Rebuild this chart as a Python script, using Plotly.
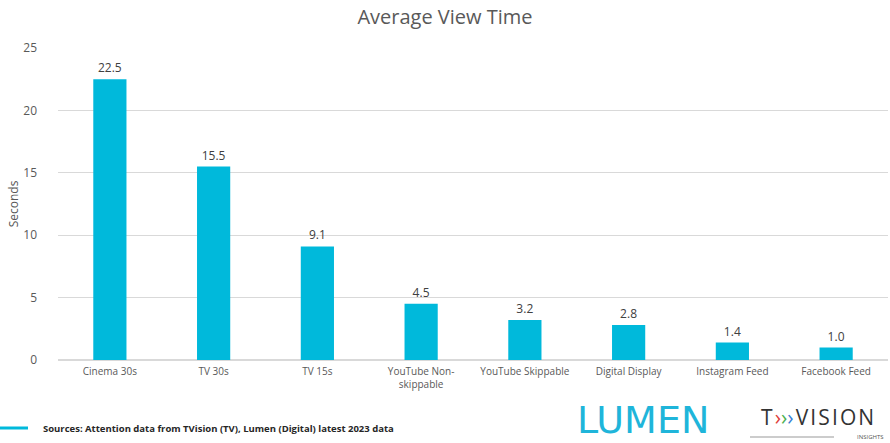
import plotly.graph_objects as go

categories = ["Cinema 30s", "TV 30s", "TV 15s", "YouTube Non-<br>skippable",
              "YouTube Skippable", "Digital Display", "Instagram Feed", "Facebook Feed"]
seconds = [22.5, 15.5, 9.1, 4.5, 3.2, 2.8, 1.4, 1.0]
y_ticks = [0, 5, 10, 15, 20, 25]

FONT = "'Open Sans', sans-serif"
BAR = "#00B9DB"

fig = go.Figure(go.Bar(
    x=categories, y=seconds,
    marker=dict(color=BAR, line=dict(width=0)),
    text=[f"{v:.1f}" for v in seconds],
    textposition="outside",
    textfont=dict(size=12, color="#404040", family=FONT),
    cliponaxis=False,
    width=0.32,
))

fig.update_layout(
    width=890, height=443,
    margin=dict(l=58, r=2, t=48, b=83),
    paper_bgcolor="white", plot_bgcolor="white",
    showlegend=False,
    font=dict(family=FONT, color="#595959"),
    title=dict(text="Average View Time", x=0.5, xanchor="center",
               y=1 - 17 / 443, yanchor="middle",
               font=dict(size=20, color="#595959", family=FONT)),
    xaxis=dict(showgrid=False, showline=False, ticks="",
               tickfont=dict(size=10, color="#595959"), ticklabelstandoff=4),
    yaxis=dict(range=[0, 25], tickvals=y_ticks, showgrid=True,
               gridcolor="#D9D9D9", gridwidth=1, zeroline=True,
               zerolinecolor="#D9D9D9", showline=False, ticks="",
               tickfont=dict(size=12, color="#595959"), ticklabelstandoff=20,
               title=dict(text="Seconds", font=dict(size=12, color="#595959"), standoff=2)),
)

# footer accent bar and source note
fig.add_shape(type="line", xref="paper", yref="paper",
              x0=-58 / 830, x1=-30 / 830, y0=-68 / 312, y1=-68 / 312,
              line=dict(color=BAR, width=3))
fig.add_annotation(text="<b>Sources: Attention data from TVision (TV), Lumen (Digital) latest 2023 data</b>",
                   xref="paper", yref="paper", x=-17 / 830, y=-68 / 312,
                   xanchor="left", yanchor="middle", showarrow=False,
                   font=dict(size=9.5, color="#262626", family=FONT))

# brand marks
fig.add_annotation(text="LUMEN", xref="paper", yref="paper",
                   x=(643 - 58) / 830, y=-60 / 312, xanchor="center", yanchor="middle",
                   showarrow=False,
                   font=dict(size=38, color="#1FB5DA", family="'DejaVu Sans', sans-serif"))
fig.add_annotation(
    text="T\u200a<span style='color:#E0403A'>›</span><span style='color:#4CB050'>›</span>"
         "<span style='color:#3A7FD5'>›</span>\u200aV\u200aI\u200aS\u200aI\u200aO\u200aN",
    xref="paper", yref="paper", x=(817 - 58) / 830, y=-57 / 312,
    xanchor="center", yanchor="middle", showarrow=False,
    font=dict(size=21, color="#333333", family=FONT))
fig.add_shape(type="line", xref="paper", yref="paper",
              x0=(750 - 58) / 830, x1=(834 - 58) / 830, y0=-77 / 312, y1=-77 / 312,
              line=dict(color="#999999", width=1))
fig.add_annotation(text="INSIGHTS", xref="paper", yref="paper",
                   x=(886 - 58) / 830, y=-77 / 312, xanchor="right", yanchor="middle",
                   showarrow=False,
                   font=dict(size=6, color="#555555", family=FONT))

fig.write_html("out.html")
